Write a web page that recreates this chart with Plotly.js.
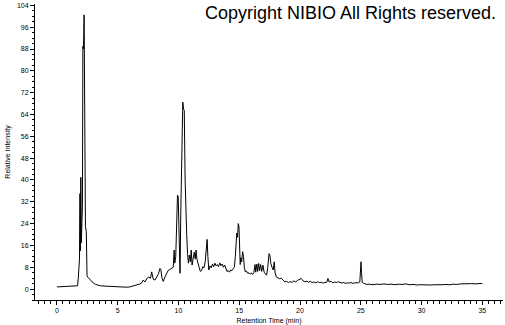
<!DOCTYPE html>
<html>
<head>
<meta charset="utf-8">
<script src="https://cdn.plot.ly/plotly-3.0.1.min.js"></script>
<style>html,body{margin:0;padding:0;background:#fff;}#chart{width:505px;height:325px;}</style>
</head>
<body>
<div id="chart"></div>
<script>
// Retention time (min)
var retentionTime = [
0.00,0.20,0.40,0.60,0.80,1.00,1.20,1.40,1.60,1.70,1.76,1.80,1.86,1.90,1.93,1.97,2.01,2.06,2.10,2.14,2.19,2.24,2.29,2.35,2.42,2.48,2.56,2.70,2.85,3.00,
3.20,3.40,3.60,3.90,4.20,4.50,4.80,5.10,5.40,5.70,6.00,6.30,6.60,6.85,7.00,7.10,7.25,7.40,7.55,7.70,7.80,7.93,8.07,8.20,8.35,8.48,8.55,8.65,8.75,8.90,
9.03,9.15,9.30,9.45,9.57,9.65,9.70,9.78,9.85,9.92,9.98,10.03,10.08,10.13,10.20,10.28,10.36,10.42,10.48,10.55,10.62,10.68,10.75,10.82,10.90,10.98,11.05,11.12,11.20,11.30,
11.38,11.45,11.52,11.60,11.70,11.80,11.90,12.00,12.10,12.20,12.30,12.36,12.42,12.50,12.60,12.70,12.80,12.90,13.00,13.10,13.20,13.30,13.40,13.50,13.60,13.70,13.80,13.90,14.00,14.10,
14.20,14.30,14.40,14.50,14.60,14.68,14.74,14.80,14.86,14.92,14.98,15.03,15.08,15.14,15.20,15.28,15.35,15.42,15.50,15.60,15.70,15.80,15.90,16.00,16.10,16.20,16.30,16.36,16.45,16.52,
16.60,16.68,16.76,16.85,16.95,17.05,17.15,17.25,17.35,17.45,17.52,17.60,17.70,17.80,17.88,17.95,18.05,18.15,18.30,18.45,18.60,18.75,18.90,19.05,19.20,19.35,19.50,19.65,19.80,19.95,
20.10,20.25,20.40,20.55,20.70,20.85,21.00,21.15,21.30,21.45,21.60,21.75,21.90,22.05,22.20,22.30,22.40,22.55,22.70,22.85,23.00,23.15,23.30,23.45,23.60,23.75,23.90,24.05,24.20,24.35,
24.50,24.65,24.80,24.92,24.98,25.02,25.06,25.12,25.20,25.35,25.50,25.70,26.00,26.30,26.60,26.90,27.20,27.50,27.80,28.10,28.40,28.70,29.00,29.30,29.60,29.90,30.20,30.50,30.80,31.10,
31.40,31.70,32.00,32.30,32.60,32.90,33.20,33.50,33.80,34.10,34.40,34.70,35.00
];
// Relative intensity (%)
var relativeIntensity = [
0.8,0.85,0.8,0.9,0.85,0.9,0.95,1.0,1.05,1.2,4,9,11,35,14,41,17,24,30,89,88,100.5,49,23,21,5,4.3,3.6,2.8,2.2,
1.7,1.4,1.2,1.1,1.0,0.9,0.95,0.9,0.8,0.7,0.8,1.2,1.8,1.9,2.4,3.3,2.6,3.9,4.4,4.0,6.3,3.6,3.3,4.6,5.5,7.6,7.2,4.0,2.8,4.5,
6.0,6.8,7.2,7.5,8.0,14.3,9.5,12,30,34.4,34,20,6,5.8,30,60,68.5,66,65.5,40,24,20,13,9.5,12.5,10,14.3,8.8,11,13.5,
11,14.3,11,10,8,6.5,6.8,8.2,7.8,10,17,18.2,12,7,8.5,7.8,9.2,8.2,9.5,8.5,9.0,8.2,9.6,8.6,9.2,8.0,8.8,7.2,6.4,6.8,
6.2,7.0,6.8,7.4,8,12,17,20.5,19,24,23,15.5,9,11.5,10,13.7,12,8,6.3,6.6,5.8,6.0,5.5,5.9,5.4,6.0,9.0,6.2,9.2,6.5,
9.4,6.8,9.0,6.5,8.8,6.2,5.8,5.1,8,13,12.5,9.4,8,7,10,6.0,4.5,4.2,3.8,4.0,3.4,2.7,2.8,2.4,2.7,2.5,3.0,2.6,3.2,3.6,
3.9,3.0,2.7,2.9,2.5,2.8,2.4,2.6,2.3,2.7,2.4,2.5,2.2,2.4,2.5,3.9,2.6,2.9,2.3,2.6,2.4,2.7,2.3,2.2,2.4,2.1,2.3,2.2,2.4,2.1,
2.3,2.2,2.3,2.6,9.5,10,6,2.5,2.2,1.8,1.7,1.8,1.6,1.8,1.7,1.9,1.7,1.8,1.6,1.8,1.7,1.9,1.6,1.7,1.5,1.6,1.5,1.6,1.5,1.6,
1.5,1.6,1.7,1.6,1.8,1.7,1.9,2.0,1.9,2.0,1.9,2.0,2.1
];
var xTitle = "Retention Time (min)";
var yTitle = "Relative Intensity";
var copyrightText = "Copyright NIBIO All Rights reserved.";

var trace = {
  x: retentionTime,
  y: relativeIntensity,
  type: "scatter",
  mode: "lines",
  line: {color: "#000", width: 1},
  hoverinfo: "none"
};

var tickFont = {family: "Liberation Sans, Arial, sans-serif", size: 7, color: "#000"};

var layout = {
  width: 505, height: 325,
  margin: {l: 35, r: 2, t: 4, b: 25, pad: 0},
  paper_bgcolor: "#fff", plot_bgcolor: "#fff",
  showlegend: false,
  xaxis: {
    range: [-1.8, 36.7],
    tick0: 0, dtick: 5,
    ticks: "outside", ticklen: 4, tickwidth: 1, tickcolor: "#000",
    minor: {dtick: 0.5, ticks: "outside", ticklen: 3, tickwidth: 1, tickcolor: "#000", showgrid: false},
    showgrid: false, zeroline: false,
    showline: true, linecolor: "#000", linewidth: 1,
    tickfont: tickFont,
    title: {text: xTitle, font: {family: "Liberation Sans, Arial, sans-serif", size: 7, color: "#000"}, standoff: 4}
  },
  yaxis: {
    range: [-4, 104.5],
    tick0: 0, dtick: 8,
    ticks: "outside", ticklen: 4, tickwidth: 1, tickcolor: "#000",
    minor: {dtick: 2, ticks: "outside", ticklen: 2, tickwidth: 1, tickcolor: "#000", showgrid: false},
    showgrid: false, zeroline: false,
    showline: true, linecolor: "#000", linewidth: 1,
    tickfont: tickFont,
    title: {text: yTitle, font: {family: "Liberation Sans, Arial, sans-serif", size: 7, color: "#000"}, standoff: 5}
  },
  annotations: [{
    text: copyrightText,
    xref: "paper", yref: "paper",
    x: 1, y: 1, xanchor: "right", yanchor: "top",
    xshift: -5, yshift: 3,
    showarrow: false,
    font: {family: "Liberation Sans, Arial, sans-serif", size: 18, color: "#000"}
  }]
};

Plotly.newPlot("chart", [trace], layout, {displayModeBar: false, staticPlot: true});
</script>
</body>
</html>
